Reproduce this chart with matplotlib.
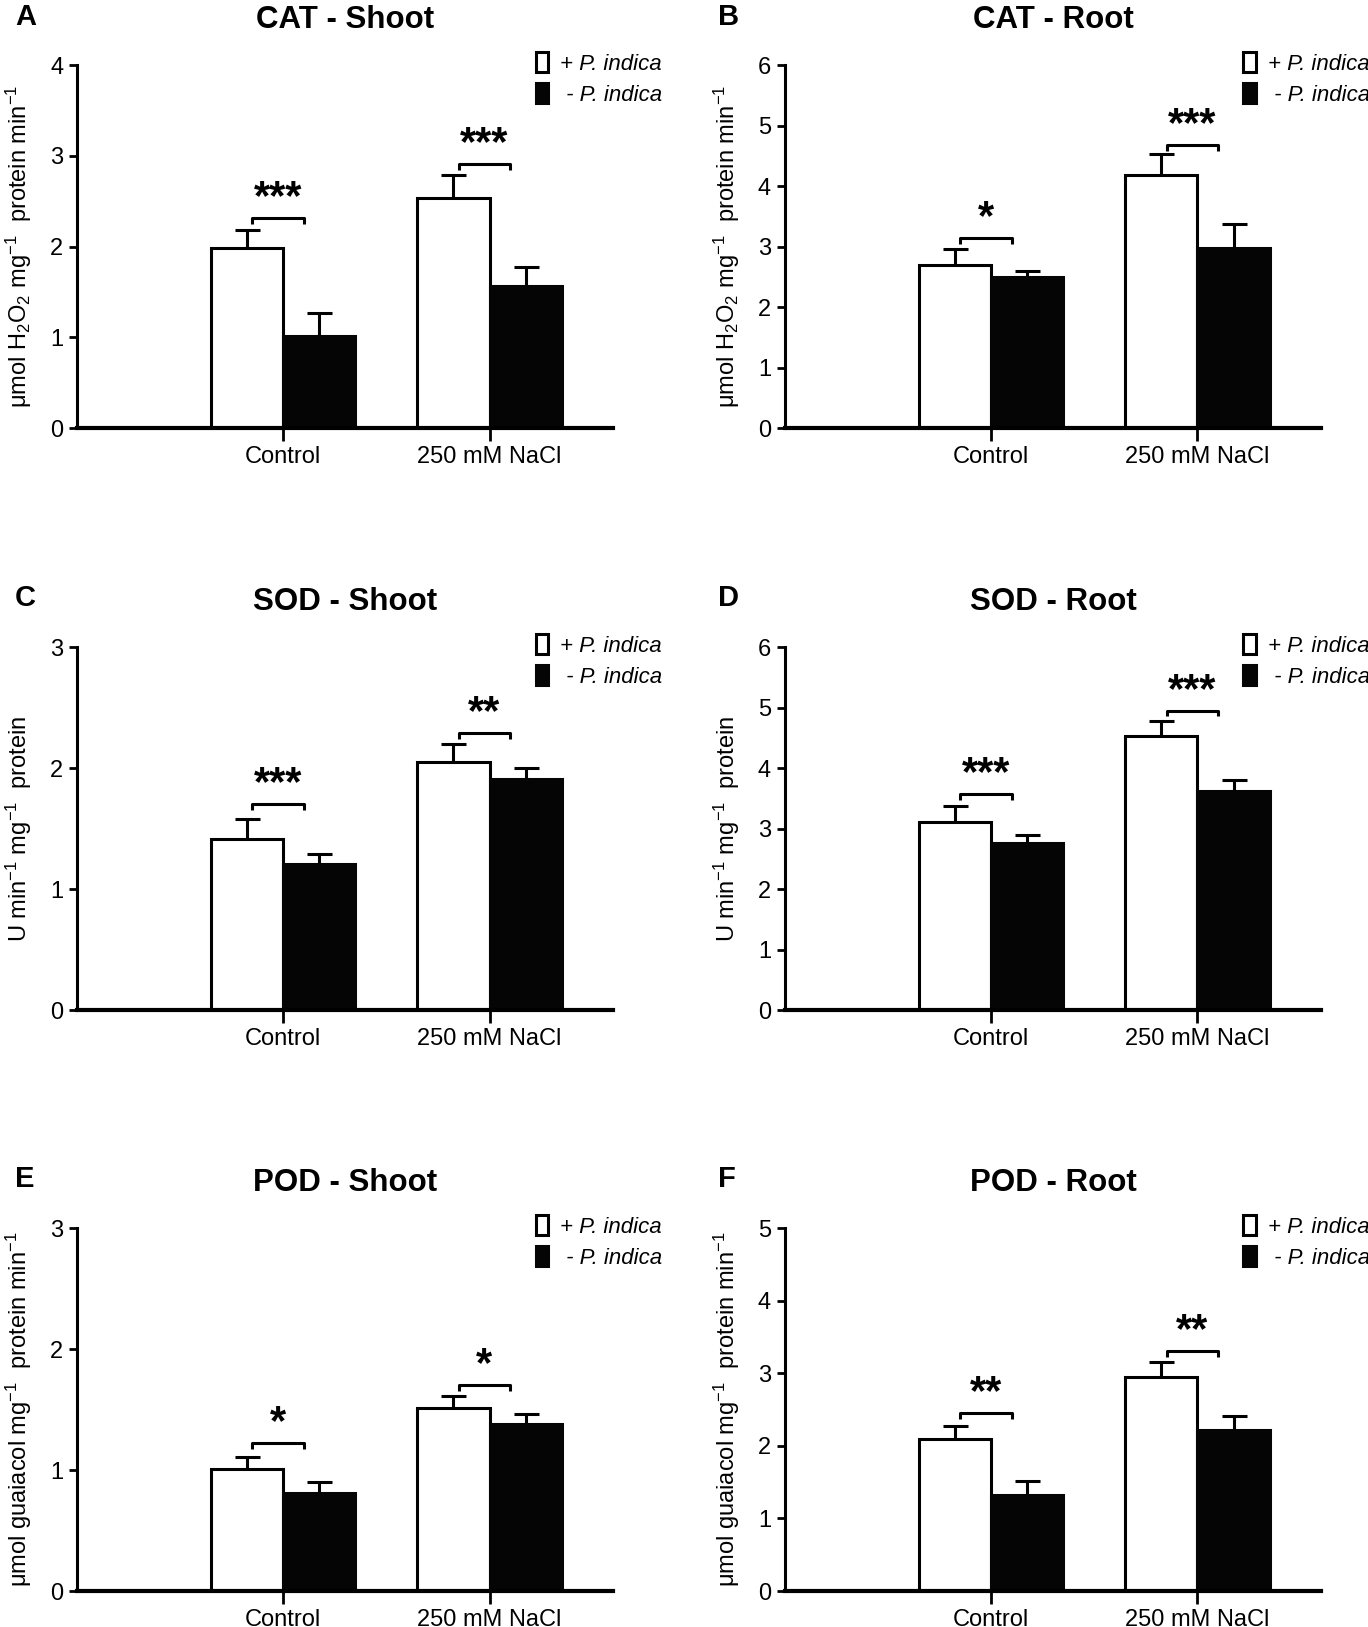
import numpy as np
import matplotlib
matplotlib.use('Agg')
import matplotlib.pyplot as plt

plt.rcParams['font.family'] = ['Liberation Sans', 'DejaVu Sans']
plt.rcParams['mathtext.fontset'] = 'custom'
plt.rcParams['mathtext.rm'] = 'Liberation Sans'
plt.rcParams['mathtext.it'] = 'Liberation Sans:italic'
plt.rcParams['mathtext.bf'] = 'Liberation Sans:bold'

groups = ['Control', '250 mM NaCl']

# + P. indica (white) / - P. indica (black), means and errors
cat_shoot_pos = [1.98, 2.54]
cat_shoot_pos_err = [0.20, 0.25]
cat_shoot_neg = [1.01, 1.57]
cat_shoot_neg_err = [0.26, 0.20]

cat_root_pos = [2.69, 4.18]
cat_root_pos_err = [0.27, 0.35]
cat_root_neg = [2.50, 2.97]
cat_root_neg_err = [0.09, 0.40]

sod_shoot_pos = [1.41, 2.05]
sod_shoot_pos_err = [0.17, 0.15]
sod_shoot_neg = [1.21, 1.91]
sod_shoot_neg_err = [0.08, 0.09]

sod_root_pos = [3.11, 4.53]
sod_root_pos_err = [0.27, 0.25]
sod_root_neg = [2.76, 3.62]
sod_root_neg_err = [0.13, 0.19]

pod_shoot_pos = [1.01, 1.51]
pod_shoot_pos_err = [0.10, 0.10]
pod_shoot_neg = [0.81, 1.38]
pod_shoot_neg_err = [0.09, 0.08]

pod_root_pos = [2.10, 2.95]
pod_root_pos_err = [0.18, 0.21]
pod_root_neg = [1.32, 2.22]
pod_root_neg_err = [0.19, 0.19]

# significance brackets (height) and stars
cat_shoot_sig = [2.31, 2.91]
cat_shoot_stars = ['***', '***']
cat_root_sig = [3.14, 4.68]
cat_root_stars = ['*', '***']
sod_shoot_sig = [1.70, 2.29]
sod_shoot_stars = ['***', '**']
sod_root_sig = [3.57, 4.95]
sod_root_stars = ['***', '***']
pod_shoot_sig = [1.22, 1.70]
pod_shoot_stars = ['*', '*']
pod_root_sig = [2.45, 3.31]
pod_root_stars = ['**', '**']

ylab_cat = r'$\mathrm{\mu}$mol H$_2$O$_2$ mg$^{-1}$  protein min$^{-1}$'
ylab_sod = r'U min$^{-1}$ mg$^{-1}$  protein'
ylab_pod = r'$\mathrm{\mu}$mol guaiacol mg$^{-1}$  protein min$^{-1}$'

panels = [
    ('A', 'CAT - Shoot', cat_shoot_pos, cat_shoot_pos_err, cat_shoot_neg, cat_shoot_neg_err,
     cat_shoot_sig, cat_shoot_stars, 4, ylab_cat),
    ('B', 'CAT - Root', cat_root_pos, cat_root_pos_err, cat_root_neg, cat_root_neg_err,
     cat_root_sig, cat_root_stars, 6, ylab_cat),
    ('C', 'SOD - Shoot', sod_shoot_pos, sod_shoot_pos_err, sod_shoot_neg, sod_shoot_neg_err,
     sod_shoot_sig, sod_shoot_stars, 3, ylab_sod),
    ('D', 'SOD - Root', sod_root_pos, sod_root_pos_err, sod_root_neg, sod_root_neg_err,
     sod_root_sig, sod_root_stars, 6, ylab_sod),
    ('E', 'POD - Shoot', pod_shoot_pos, pod_shoot_pos_err, pod_shoot_neg, pod_shoot_neg_err,
     pod_shoot_sig, pod_shoot_stars, 3, ylab_pod),
    ('F', 'POD - Root', pod_root_pos, pod_root_pos_err, pod_root_neg, pod_root_neg_err,
     pod_root_sig, pod_root_stars, 5, ylab_pod),
]

fig = plt.figure(figsize=(13.68, 16.27), dpi=100)

lefts = [0.0563, 0.5738]
bottoms = [0.7369, 0.3792, 0.0221]
w, h = 0.392, 0.2231
letter_x = [0.011, 0.525]
letter_y = [0.9896, 0.6325, 0.2754]

x = np.arange(1, len(groups) + 1)
bw = 0.35

for i, (letter, title, pos, pos_err, neg, neg_err, sig, stars, ymax, ylab) in enumerate(panels):
    r, c = divmod(i, 2)
    ax = fig.add_axes([lefts[c], bottoms[r], w, h])

    ax.bar(x - bw / 2, pos, bw, color='white', edgecolor='black', linewidth=2.2, zorder=2,
           label='+ P. indica')
    ax.bar(x + bw / 2, neg, bw, color='#050505', edgecolor='#050505', linewidth=2.2, zorder=2,
           label=' - P. indica')
    ax.errorbar(x - bw / 2, pos, yerr=pos_err, fmt='none', ecolor='black', elinewidth=2.2,
                capsize=9, capthick=2.2, zorder=1)
    ax.errorbar(x + bw / 2, neg, yerr=neg_err, fmt='none', ecolor='black', elinewidth=2.2,
                capsize=9, capthick=2.2, zorder=1)

    for xi, s, st in zip(x, sig, stars):
        d = 0.016 * ymax
        ax.plot([xi - 0.15, xi - 0.15, xi + 0.10, xi + 0.10], [s - d, s, s, s - d],
                color='black', lw=2.2, solid_capstyle='butt', clip_on=False)
        ax.annotate(st, (xi - 0.025, s), xytext=(0, 0), textcoords='offset points',
                    ha='center', va='bottom', fontsize=30, fontweight='bold', clip_on=False)

    ax.set_xlim(0, 2.6)
    ax.set_ylim(0, ymax)
    ax.set_yticks(range(ymax + 1))
    ax.set_xticks(x)
    ax.set_xticklabels(groups)
    ax.tick_params(axis='y', labelsize=17, width=2, length=6, pad=4)
    ax.tick_params(axis='x', labelsize=17, width=2, length=9, pad=4)
    for sp in ['top', 'right']:
        ax.spines[sp].set_visible(False)
    ax.spines['left'].set_linewidth(2.2)
    ax.spines['bottom'].set_linewidth(3)

    ax.set_ylabel(ylab, fontsize=17)
    ax.yaxis.set_label_coords(-0.08, 0.5)
    ax.set_title(title, fontsize=22.5, fontweight='bold', x=0.5, y=1.08)
    fig.text(letter_x[c], letter_y[r], letter, fontsize=21, fontweight='bold',
             ha='left', va='center')

    ax.legend(loc='upper left', bbox_to_anchor=(0.855, 1.035), frameon=False,
              prop={'size': 16, 'style': 'italic'}, handlelength=0.55, handleheight=1.0,
              handletextpad=0.55, labelspacing=0.38, borderpad=0, borderaxespad=0)

fig.savefig('out.png', dpi=100)
